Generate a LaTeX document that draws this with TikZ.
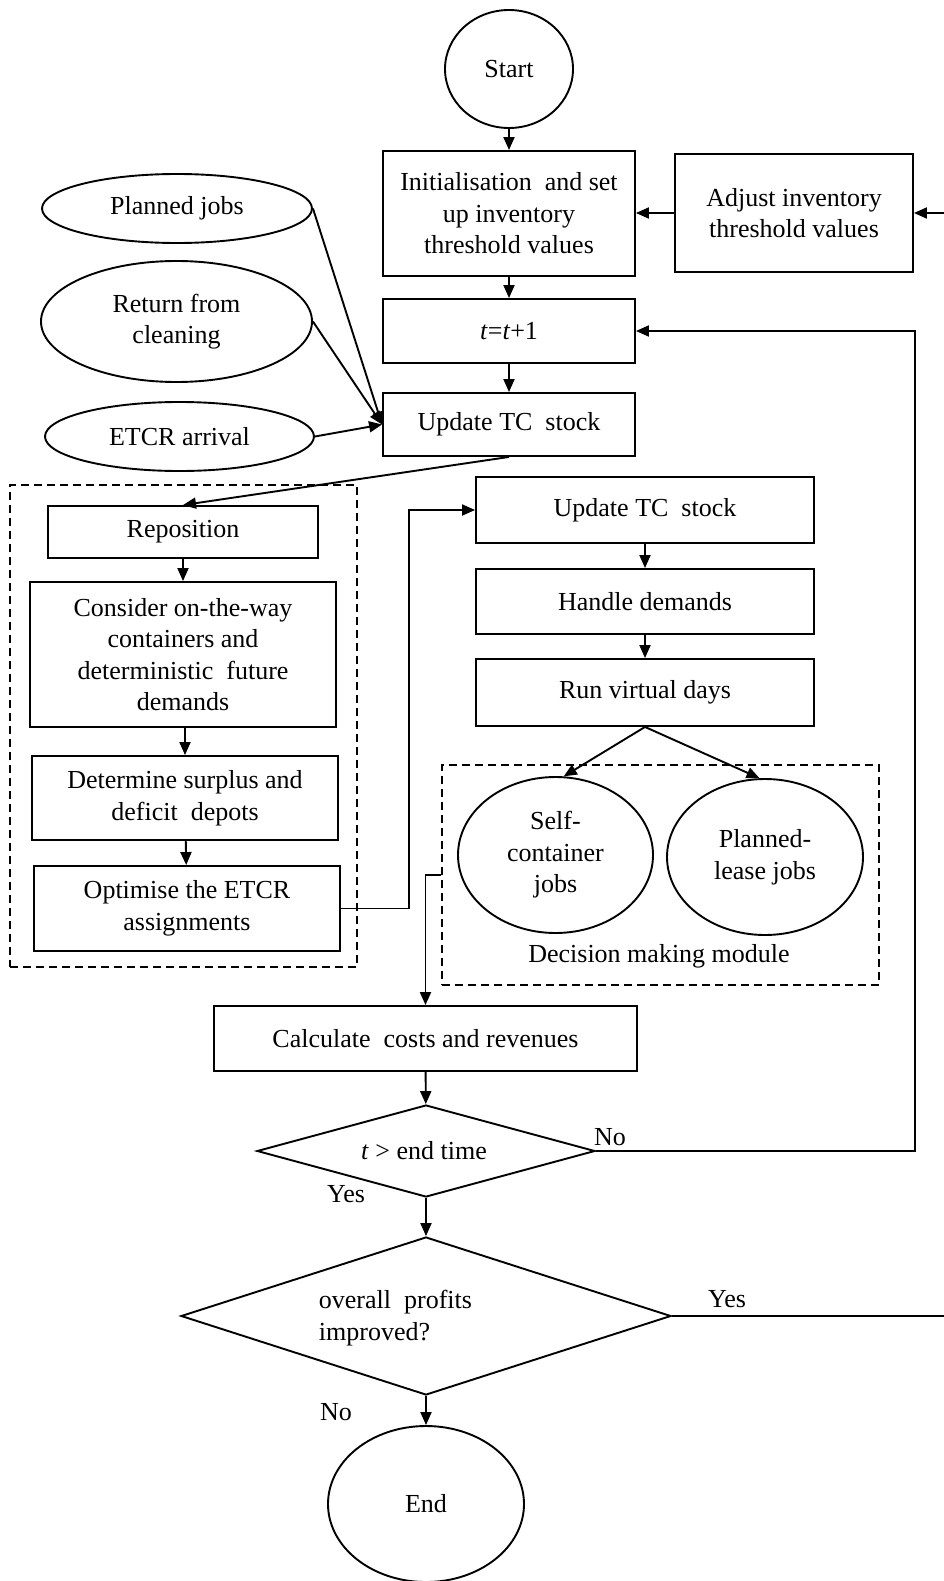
\documentclass[tikz,border=0pt]{standalone}
\usepackage{fontspec}
\setmainfont{Liberation Serif}
\usetikzlibrary{shapes.geometric,arrows.meta,calc}

\begin{document}
\begin{tikzpicture}[x=1pt,y=-1pt,
  font=\fontsize{26}{31.5}\selectfont,
  line width=1.9pt,
  box/.style={draw, rectangle, align=center, inner sep=0pt},
  oval/.style={draw, ellipse, align=center, inner sep=0pt},
  decision/.style={draw, diamond, inner sep=0pt},
  dashbox/.style={draw, rectangle, dash pattern=on 8pt off 5pt, inner sep=0pt},
  arr/.style={-{Triangle[length=13pt,width=11pt]}},
  lbl/.style={inner sep=0pt, align=center}
]
\useasboundingbox (0,0) rectangle (944,1581);

% module frames
\node[dashbox, minimum width=347pt, minimum height=482pt] (repmod) at (183.5,726) {};
\node[dashbox, minimum width=437pt, minimum height=220pt] (decmod) at (660.5,875) {};

% main column
\node[oval, minimum width=128pt, minimum height=118pt] (start) at (509,69) {Start};
\node[box, minimum width=252pt, minimum height=125pt] (init) at (509,213.5)
  {Initialisation\ \ and set\\up inventory\\threshold values};
\node[box, minimum width=238pt, minimum height=118pt] (adjust) at (794,213)
  {Adjust inventory\\threshold values};
\node[box, minimum width=252pt, minimum height=64pt] (tbox) at (509,331)
  {\textit{t}=\textit{t}+1};
\node[box, minimum width=252pt, minimum height=63pt] (upd1) at (509,424.5)
  {Update TC\ \ stock};

% inputs
\node[oval, minimum width=270pt, minimum height=69pt] (planned) at (177,208.5) {Planned jobs};
\node[oval, minimum width=271pt, minimum height=121pt] (return) at (176.5,321.5) {Return from\\cleaning};
\node[oval, minimum width=269pt, minimum height=69pt] (etcr) at (179.5,436.5) {ETCR arrival};

% reposition module
\node[box, minimum width=270pt, minimum height=52pt] (repo) at (183,532) {Reposition};
\node[box, minimum width=306pt, minimum height=145pt] (consider) at (183,654.5)
  {Consider on-the-way\\containers and\\deterministic\ \ future\\demands};
\node[box, minimum width=306pt, minimum height=84pt] (determine) at (185,798)
  {Determine surplus and\\deficit\ \ depots};
\node[box, minimum width=306pt, minimum height=85pt] (optimise) at (187,908.5)
  {Optimise the ETCR\\assignments};

% right column
\node[box, minimum width=338pt, minimum height=66pt] (upd2) at (645,510) {Update TC\ \ stock};
\node[box, minimum width=338pt, minimum height=65pt] (handle) at (645,601.5) {Handle demands};
\node[box, minimum width=338pt, minimum height=67pt] (run) at (645,692.5) {Run virtual days};

% decision making module
\node[oval, minimum width=195pt, minimum height=156pt] (self) at (555.5,855) {Self-\\container\\jobs};
\node[oval, minimum width=196pt, minimum height=156pt] (lease) at (765,857) {Planned-\\lease jobs};
\node[lbl] (declabel) at (659,956) {Decision making module};

% evaluation
\node[box, minimum width=423pt, minimum height=65pt] (calc) at (425.5,1038.5)
  {Calculate\ \ costs and revenues};
\node[decision, minimum width=338pt, minimum height=92pt] (d1) at (426,1151) {};
\node[lbl] (d1txt) at (424,1151) {\textit{t} > end time};
\node[decision, minimum width=490pt, minimum height=158pt] (d2) at (426,1316) {};
\node[lbl, align=left, anchor=west] (d2txt) at (318,1318) {overall\ \ profits\\improved?};
\node[oval, minimum width=196pt, minimum height=156pt] (endc) at (426,1504) {End};

% branch labels
\node[lbl] (no1) at (610,1137) {No};
\node[lbl] (yes1) at (346,1194) {Yes};
\node[lbl] (yes2) at (727,1299) {Yes};
\node[lbl] (no2) at (336,1412) {No};

% loop-back columns
\coordinate (loopR) at (915,1151);
\coordinate (outR) at (952,1316);

% connectors
\draw[arr] (start) -- (init);
\draw[arr] (adjust.west) -- (adjust.west -| init.east);
\draw[arr] (init) -- (tbox);
\draw[arr] (tbox) -- (upd1);
\draw[arr] (planned.east) -- (upd1.west);
\draw[arr] (return.east) -- (upd1.west);
\draw[arr] (etcr.east) -- (upd1.west);
\draw[arr] (upd1.south) -- (repo.north);
\draw[arr] (repo) -- (consider);
\draw[arr] (consider.south -| determine.north) -- (determine.north);
\draw[arr] (determine) -- (optimise);
\draw[arr] (optimise.east) -- ++(68,0) |- (upd2.west);
\draw[arr] (upd2) -- (handle);
\draw[arr] (handle) -- (run);
\draw[arr] (run.south) -- (self.84);
\draw[arr] (run.south) -- (lease.94);
\draw[arr] (decmod.west) -- ++(-16,0) -| (calc.north);
\draw[arr] (calc) -- (d1);
\draw[arr] (d1.east) -- (loopR) |- (tbox.east);
\draw[arr] (d1) -- (d2);
\draw[arr] (d2.east) -- (outR) |- (adjust.east);
\draw[arr] (d2) -- (endc);
\end{tikzpicture}
\end{document}
